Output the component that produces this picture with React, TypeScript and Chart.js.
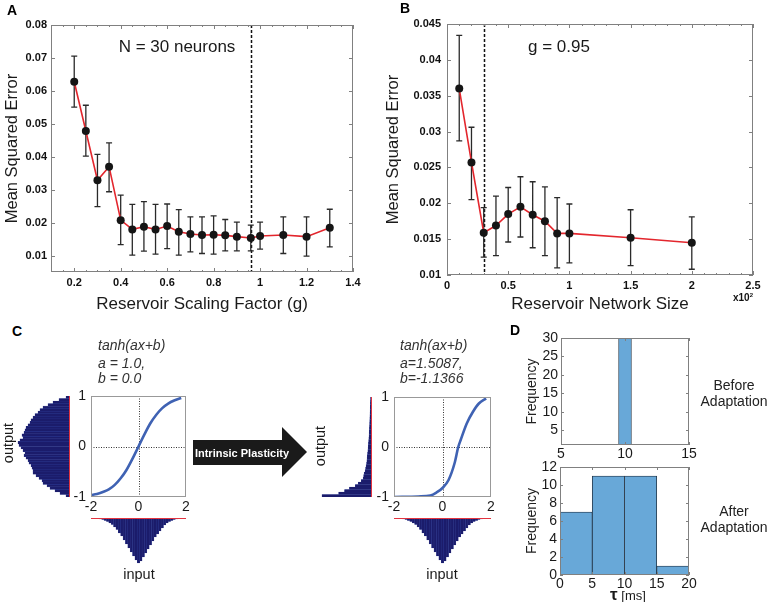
import React, { useEffect, useRef } from 'react';
import { Chart, registerables } from 'chart.js';

Chart.register(...registerables);

const FONT = '"Liberation Sans", Arial, Helvetica, sans-serif';
Chart.defaults.font.family = FONT;

// ---------------- Panel A : MSE vs reservoir scaling factor (N = 30) ----------------
const A_G = [0.2, 0.25, 0.3, 0.35, 0.4, 0.45, 0.5, 0.55, 0.6, 0.65, 0.7, 0.75, 0.8, 0.85, 0.9, 0.96, 1.0, 1.1, 1.2, 1.3];
const A_MSE = [0.0628, 0.0479, 0.033, 0.0371, 0.0209, 0.0181, 0.0189, 0.0181, 0.0191, 0.0174, 0.0167, 0.0164, 0.0165, 0.0163, 0.0159, 0.0155, 0.0161, 0.0164, 0.0159, 0.0186];
const A_ERR_HI = [0.0706, 0.0557, 0.0408, 0.0443, 0.0285, 0.0257, 0.0265, 0.0257, 0.0258, 0.0241, 0.0219, 0.0219, 0.0222, 0.0211, 0.0203, 0.0194, 0.0203, 0.0219, 0.0219, 0.0242];
const A_ERR_LO = [0.0551, 0.0403, 0.025, 0.0295, 0.0135, 0.0103, 0.0115, 0.0106, 0.0123, 0.0103, 0.0113, 0.0108, 0.0106, 0.0116, 0.0116, 0.0116, 0.0121, 0.0108, 0.01, 0.0128];
const A_X_TICKS = [0.2, 0.4, 0.6, 0.8, 1.0, 1.2, 1.4];
const A_Y_TICKS = [0.01, 0.02, 0.03, 0.04, 0.05, 0.06, 0.07, 0.08];
const A_REF_G = 0.96;

// ---------------- Panel B : MSE vs reservoir network size (g = 0.95) ----------------
const B_SIZE = [0.1, 0.2, 0.3, 0.4, 0.5, 0.6, 0.7, 0.8, 0.9, 1.0, 1.5, 2.0];
const B_MSE = [0.036, 0.0257, 0.0159, 0.0169, 0.0185, 0.0195, 0.0184, 0.0175, 0.0158, 0.0158, 0.0152, 0.0145];
const B_ERR_HI = [0.0434, 0.0306, 0.0194, 0.021, 0.0222, 0.0237, 0.023, 0.0223, 0.0208, 0.0199, 0.0191, 0.0181];
const B_ERR_LO = [0.0287, 0.0205, 0.0125, 0.0127, 0.0146, 0.0153, 0.0138, 0.0127, 0.011, 0.0117, 0.0113, 0.0108];
const B_X_TICKS = [0, 0.5, 1, 1.5, 2, 2.5];
const B_Y_TICKS = [0.01, 0.015, 0.02, 0.025, 0.03, 0.035, 0.04, 0.045];
const B_REF_SIZE = 0.3;

// ---------------- Panel C : transfer functions and histograms ----------------
const C_TICKS_X = [-2, 0, 2];
const C_TICKS_Y = [-1, 0, 1];
const C_BEFORE_IN = [-2, -1.75, -1.5, -1.25, -1, -0.75, -0.5, -0.25, 0, 0.25, 0.5, 0.75, 1, 1.25, 1.5, 1.8];
const C_BEFORE_OUT = [-0.96, -0.94, -0.9, -0.85, -0.76, -0.63, -0.46, -0.24, 0, 0.24, 0.46, 0.63, 0.76, 0.85, 0.91, 0.96];
const C_AFTER_IN = [-2, -1, -0.5, -0.25, 0, 0.25, 0.5, 0.65, 0.75, 1.0, 1.25, 1.5, 1.8];
const C_AFTER_OUT = [-1.0, -0.99, -0.97, -0.91, -0.82, -0.66, -0.32, 0.0, 0.14, 0.47, 0.7, 0.87, 0.97];

// input histogram (same input distribution for both), bins of 0.1 starting at -1.75
const IN_BIN_START = -1.75;
const IN_BIN_WIDTH = 0.1;
const INPUT_COUNTS = [0.5, 1, 1.5, 2.5, 3.5, 5, 6.5, 9, 11.5, 15, 18, 22, 26, 30, 34, 38, 42, 45, 43, 39, 35, 31, 27, 23, 19, 16, 13, 10, 7, 5, 3.5, 2.5, 1.5, 1, 0.5];

// output histograms, bins of 0.05 from -1 (bottom) to 1 (top)
const OUT_BIN_START = -1;
const OUT_BIN_WIDTH = 0.05;
const OUTPUT_BEFORE = [3, 9, 14, 19, 22, 26, 27, 30, 33, 36, 36, 37, 38, 40, 41, 43, 45, 44, 46, 48, 50, 51, 49, 46, 47, 45, 44, 43, 41, 39, 38, 36, 34, 31, 29, 26, 21, 16, 10, 3];
const OUTPUT_AFTER = [50, 33, 27, 22, 16, 13, 10, 8, 7.5, 7, 6, 5.5, 5, 4.5, 4.2, 4, 3.8, 3.5, 3.2, 3, 2.8, 2.6, 2.4, 2.2, 2, 1.9, 1.8, 1.6, 1.5, 1.4, 1.3, 1.2, 1.1, 1, 0.9, 0.8, 0.7, 0.6, 0.5, 0.4];

// ---------------- Panel D : tau histograms ----------------
const D_BEFORE_CENTERS = [5, 6, 7, 8, 9, 10, 11, 12, 13, 14, 15];
const D_BEFORE_COUNTS = [0, 0, 0, 0, 0, 30, 0, 0, 0, 0, 0];
const D_BEFORE_X_TICKS = [5, 10, 15];
const D_BEFORE_Y_TICKS = [5, 10, 15, 20, 25, 30];
const D_AFTER_CENTERS = [2.5, 7.5, 12.5, 17.5];
const D_AFTER_COUNTS = [7, 11, 11, 1];
const D_AFTER_X_TICKS = [0, 5, 10, 15, 20];
const D_AFTER_Y_TICKS = [0, 2, 4, 6, 8, 10, 12];

// ---------------- styling ----------------
const RED = '#e3262d';
const BOX = '#808080';
const NAVY = '#1b1c6b';
const NAVY_EDGE = '#2c3a92';
const CURVE = '#3f62b3';
const HIST_RED = '#e2333f';
const D_FILL = '#68a8d8';

const fmt = (v: any) => String(Number(Number(v).toFixed(3)));
const fixedTicks = (vals: number[]) => (scale: any) => {
  scale.ticks = vals.map((v) => ({ value: v }));
};
const NO_GRID = { display: false, drawTicks: false };

type Line = { axis: 'x' | 'y'; value: number; color: string; width: number; dash?: number[]; front?: boolean };
type FrameCfg = {
  box?: { color: string; tick?: number; minorX?: number; minorLen?: number };
  lines?: Line[];
  errors?: { x: number[]; lo: number[]; hi: number[]; color: string; width: number; cap: number };
};

function framePlugin(cfg: FrameCfg) {
  const drawLines = (chart: any, front: boolean) => {
    const { ctx, chartArea: ca, scales } = chart;
    (cfg.lines || []).filter((l) => !!l.front === front).forEach((l) => {
      ctx.save();
      ctx.beginPath();
      ctx.strokeStyle = l.color;
      ctx.lineWidth = l.width;
      ctx.setLineDash(l.dash || []);
      if (l.axis === 'x') {
        const p = Math.round(scales.x.getPixelForValue(l.value)) + 0.5;
        ctx.moveTo(p, ca.top);
        ctx.lineTo(p, ca.bottom);
      } else {
        const p = Math.round(scales.y.getPixelForValue(l.value)) + 0.5;
        ctx.moveTo(ca.left, p);
        ctx.lineTo(ca.right, p);
      }
      ctx.stroke();
      ctx.restore();
    });
  };
  return {
    id: 'frame',
    beforeDatasetsDraw(chart: any) {
      const { ctx, scales } = chart;
      drawLines(chart, false);
      if (cfg.errors) {
        const e = cfg.errors;
        ctx.save();
        ctx.strokeStyle = e.color;
        ctx.lineWidth = e.width;
        ctx.beginPath();
        e.x.forEach((xv, i) => {
          const px = scales.x.getPixelForValue(xv);
          const y1 = scales.y.getPixelForValue(e.hi[i]);
          const y2 = scales.y.getPixelForValue(e.lo[i]);
          ctx.moveTo(px, y1);
          ctx.lineTo(px, y2);
          ctx.moveTo(px - e.cap, y1);
          ctx.lineTo(px + e.cap, y1);
          ctx.moveTo(px - e.cap, y2);
          ctx.lineTo(px + e.cap, y2);
        });
        ctx.stroke();
        ctx.restore();
      }
    },
    afterDatasetsDraw(chart: any) {
      drawLines(chart, true);
      if (!cfg.box) return;
      const { ctx, chartArea: ca, scales } = chart;
      const b = cfg.box;
      const xs = scales.x;
      const ys = scales.y;
      ctx.save();
      ctx.strokeStyle = b.color;
      ctx.lineWidth = 1;
      ctx.strokeRect(ca.left + 0.5, ca.top + 0.5, ca.right - ca.left - 1, ca.bottom - ca.top - 1);
      ctx.beginPath();
      const L = b.tick || 0;
      if (L) {
        xs.ticks.forEach((t: any) => {
          const p = Math.round(xs.getPixelForValue(t.value)) + 0.5;
          ctx.moveTo(p, ca.bottom);
          ctx.lineTo(p, ca.bottom - L);
          ctx.moveTo(p, ca.top);
          ctx.lineTo(p, ca.top + L);
        });
        ys.ticks.forEach((t: any) => {
          const p = Math.round(ys.getPixelForValue(t.value)) + 0.5;
          ctx.moveTo(ca.left, p);
          ctx.lineTo(ca.left + L, p);
          ctx.moveTo(ca.right, p);
          ctx.lineTo(ca.right - L, p);
        });
      }
      if (b.minorX) {
        const ml = b.minorLen || 2;
        const n = Math.round((xs.max - xs.min) / b.minorX);
        for (let k = 0; k <= n; k++) {
          const p = Math.round(xs.getPixelForValue(xs.min + k * b.minorX)) + 0.5;
          ctx.moveTo(p, ca.bottom);
          ctx.lineTo(p, ca.bottom - ml);
          ctx.moveTo(p, ca.top);
          ctx.lineTo(p, ca.top + ml);
        }
      }
      ctx.stroke();
      ctx.restore();
    },
  };
}

const baseOptions = (padding: any) => ({
  responsive: false,
  maintainAspectRatio: false,
  animation: false,
  events: [],
  layout: { padding },
  plugins: { legend: { display: false }, tooltip: { enabled: false }, title: { display: false } },
});

// ---------- A / B builder ----------
function makeErrorChart(p: any) {
  return () => ({
    type: 'line',
    data: {
      datasets: [
        {
          data: p.x.map((xv: number, i: number) => ({ x: xv, y: p.y[i] })),
          borderColor: RED,
          borderWidth: 1.6,
          pointRadius: 4,
          pointBackgroundColor: '#151515',
          pointBorderColor: '#151515',
          pointBorderWidth: 0,
          tension: 0,
          clip: false,
        },
      ],
    },
    options: {
      ...baseOptions({ left: 0, right: p.padRight, top: p.padTop, bottom: 0 }),
      scales: {
        x: {
          type: 'linear',
          min: p.xMin,
          max: p.xMax,
          afterBuildTicks: fixedTicks(p.xTicks),
          afterFit: (s: any) => {
            s.height = p.xH;
          },
          grid: NO_GRID,
          border: { display: false },
          ticks: { font: { size: 11, weight: 'bold' }, color: '#111', padding: 4, maxRotation: 0, autoSkip: false, callback: fmt },
          title: { display: true, text: p.xTitle, font: { size: 17 }, color: '#1a1a1a', padding: { top: 0, bottom: 3 } },
        },
        y: {
          type: 'linear',
          min: p.yMin,
          max: p.yMax,
          afterBuildTicks: fixedTicks(p.yTicks),
          afterFit: (s: any) => {
            s.width = p.yW;
          },
          grid: NO_GRID,
          border: { display: false },
          ticks: { font: { size: 11, weight: 'bold' }, color: '#111', padding: p.yPad, autoSkip: false, callback: fmt },
          title: { display: true, text: 'Mean Squared Error', font: { size: 16.5 }, color: '#1a1a1a', padding: { top: p.yTitlePad, bottom: 0 } },
        },
      },
    },
    plugins: [
      framePlugin({
        box: { color: BOX, tick: 4, minorX: p.minorX, minorLen: 2 },
        lines: [{ axis: 'x', value: p.ref, color: '#111', width: 1.5, dash: [3, 2] }],
        errors: { x: p.x, lo: p.lo, hi: p.hi, color: '#2a2a2a', width: 1.3, cap: 3 },
      }),
    ],
  });
}

const makeA = makeErrorChart({
  x: A_G, y: A_MSE, lo: A_ERR_LO, hi: A_ERR_HI,
  xMin: 0.1, xMax: 1.4, yMin: 0.0052, yMax: 0.08,
  xTicks: A_X_TICKS, yTicks: A_Y_TICKS,
  xTitle: 'Reservoir Scaling Factor (g)',
  padRight: 27, padTop: 25, yW: 51, xH: 46, yPad: 4, yTitlePad: 3,
  ref: A_REF_G, minorX: 0.05,
});

const makeB = makeErrorChart({
  x: B_SIZE, y: B_MSE, lo: B_ERR_LO, hi: B_ERR_HI,
  xMin: 0, xMax: 2.5, yMin: 0.01, yMax: 0.045,
  xTicks: B_X_TICKS, yTicks: B_Y_TICKS,
  xTitle: 'Reservoir Network Size',
  padRight: 14, padTop: 24, yW: 67, xH: 43, yPad: 6, yTitlePad: 4,
  ref: B_REF_SIZE, minorX: 0.1,
});

// ---------- C builders ----------
function makeTransfer(xs: number[], ys: number[], padRight: number, padTop: number, xH: number) {
  return () => ({
    type: 'line',
    data: {
      datasets: [
        {
          data: xs.map((xv, i) => ({ x: xv, y: ys[i] })),
          borderColor: CURVE,
          borderWidth: 2.6,
          pointRadius: 0,
          cubicInterpolationMode: 'monotone',
        },
      ],
    },
    options: {
      ...baseOptions({ left: 0, right: padRight, top: padTop, bottom: 0 }),
      scales: {
        x: {
          type: 'linear', min: -2, max: 2, offset: false,
          afterBuildTicks: fixedTicks(C_TICKS_X),
          afterFit: (s: any) => { s.height = xH; },
          grid: NO_GRID, border: { display: false },
          ticks: { font: { size: 14 }, color: '#1a1a1a', padding: 2, maxRotation: 0, autoSkip: false },
        },
        y: {
          type: 'linear', min: -1, max: 1,
          afterBuildTicks: fixedTicks(C_TICKS_Y),
          afterFit: (s: any) => { s.width = 31; },
          grid: NO_GRID, border: { display: false },
          ticks: { font: { size: 14 }, color: '#1a1a1a', padding: 5, autoSkip: false },
        },
      },
    },
    plugins: [
      framePlugin({
        box: { color: '#999', tick: 0 },
        lines: [
          { axis: 'x', value: 0, color: '#333', width: 1, dash: [1, 1.5] },
          { axis: 'y', value: 0, color: '#333', width: 1, dash: [1, 1.5] },
        ],
      }),
    ],
  });
}

function makeOutputHist(counts: number[], max: number, padding: any) {
  return () => ({
    type: 'bar',
    data: {
      datasets: [
        {
          data: counts.map((c, i) => ({ x: c, y: OUT_BIN_START + (i + 0.5) * OUT_BIN_WIDTH })),
          backgroundColor: NAVY,
          borderColor: NAVY_EDGE,
          borderWidth: 0.4,
          barPercentage: 1,
          categoryPercentage: 1,
        },
      ],
    },
    options: {
      ...baseOptions(padding),
      indexAxis: 'y',
      scales: {
        x: { type: 'linear', min: 0, max, reverse: true, display: false },
        y: { type: 'linear', min: -1, max: 1, offset: false, display: false },
      },
    },
    plugins: [framePlugin({ lines: [{ axis: 'x', value: 0, color: HIST_RED, width: 1, front: true }] })],
  });
}

function makeInputHist(padding: any) {
  return () => ({
    type: 'bar',
    data: {
      datasets: [
        {
          data: INPUT_COUNTS.map((c, i) => ({ x: IN_BIN_START + (i + 0.5) * IN_BIN_WIDTH, y: c })),
          backgroundColor: NAVY,
          borderColor: NAVY_EDGE,
          borderWidth: 0.4,
          barPercentage: 1,
          categoryPercentage: 1,
        },
      ],
    },
    options: {
      ...baseOptions(padding),
      scales: {
        x: { type: 'linear', min: -2, max: 2, offset: false, display: false },
        y: { type: 'linear', min: 0, max: 46, reverse: true, display: false },
      },
    },
    plugins: [framePlugin({ lines: [{ axis: 'y', value: 0, color: HIST_RED, width: 1, front: true }] })],
  });
}

const makeCTransferBefore = makeTransfer(C_BEFORE_IN, C_BEFORE_OUT, 14, 16, 23);
const makeCTransferAfter = makeTransfer(C_AFTER_IN, C_AFTER_OUT, 12, 16, 24);
const makeCOutBefore = makeOutputHist(OUTPUT_BEFORE, 52, { left: 7, right: 6, top: 16, bottom: 18 });
const makeCOutAfter = makeOutputHist(OUTPUT_AFTER, 51, { left: 7, right: 5, top: 16, bottom: 19 });
const makeCInBefore = makeInputHist({ left: 11, right: 14, top: 13, bottom: 11 });
const makeCInAfter = makeInputHist({ left: 11, right: 12, top: 13, bottom: 11 });

// ---------- D builder ----------
function makeTauHist(p: any) {
  return () => ({
    type: 'bar',
    data: {
      datasets: [
        {
          data: p.centers.map((c: number, i: number) => ({ x: c, y: p.counts[i] })),
          backgroundColor: D_FILL,
          borderColor: '#1d2b3a',
          borderWidth: (ctx: any) => (ctx.raw && ctx.raw.y > 0 ? 0.8 : 0),
          barPercentage: 1,
          categoryPercentage: 1,
        },
      ],
    },
    options: {
      ...baseOptions({ left: 0, right: 11, top: p.padTop, bottom: 0 }),
      scales: {
        x: {
          type: 'linear', min: p.xMin, max: p.xMax, offset: false,
          afterBuildTicks: fixedTicks(p.xTicks),
          afterFit: (s: any) => { s.height = p.xH; },
          grid: { ...NO_GRID, offset: false }, border: { display: false },
          ticks: { font: { size: 14 }, color: '#1a1a1a', padding: 1, maxRotation: 0, autoSkip: false },
        },
        y: {
          type: 'linear', min: p.yMin, max: p.yMax,
          afterBuildTicks: fixedTicks(p.yTicks),
          afterFit: (s: any) => { s.width = p.yW; },
          grid: NO_GRID, border: { display: false },
          ticks: { font: { size: 14 }, color: '#1a1a1a', padding: 3, autoSkip: false },
          title: { display: true, text: 'Frequency', font: { size: 14 }, color: '#222', padding: { top: 4, bottom: 0 } },
        },
      },
    },
    plugins: [framePlugin({ box: { color: BOX, tick: 3 } })],
  });
}

const makeDBefore = makeTauHist({
  centers: D_BEFORE_CENTERS, counts: D_BEFORE_COUNTS,
  xMin: 5, xMax: 15, yMin: 1, yMax: 30,
  xTicks: D_BEFORE_X_TICKS, yTicks: D_BEFORE_Y_TICKS,
  padTop: 13, xH: 20, yW: 41,
});
const makeDAfter = makeTauHist({
  centers: D_AFTER_CENTERS, counts: D_AFTER_COUNTS,
  xMin: 0, xMax: 20, yMin: 0, yMax: 12,
  xTicks: D_AFTER_X_TICKS, yTicks: D_AFTER_Y_TICKS,
  padTop: 12, xH: 20, yW: 40,
});

// ---------- React ----------
function ChartBox({ left, top, width, height, make }: any) {
  const ref = useRef<HTMLCanvasElement>(null);
  useEffect(() => {
    const chart = new Chart(ref.current as any, make());
    return () => chart.destroy();
  }, [make]);
  return <canvas ref={ref} width={width} height={height} style={{ position: 'absolute', left, top, width, height }} />;
}

function Txt({ x, y, children, size = 14, bold = false, italic = false, color = '#222', anchor = 'center', rotate = 0 }: any) {
  const tx = anchor === 'center' ? '-50%' : anchor === 'right' ? '-100%' : '0';
  return (
    <div
      style={{
        position: 'absolute',
        left: x,
        top: y,
        transform: `translate(${tx}, -50%)` + (rotate ? ` rotate(${rotate}deg)` : ''),
        fontSize: size,
        fontWeight: bold ? 700 : 400,
        fontStyle: italic ? 'italic' : 'normal',
        color,
        whiteSpace: 'nowrap',
        lineHeight: 1,
      }}
    >
      {children}
    </div>
  );
}

export default function App() {
  return (
    <div
      style={{
        position: 'fixed',
        left: 0,
        top: 0,
        width: 767,
        height: 602,
        background: '#fff',
        overflow: 'hidden',
        fontFamily: FONT,
      }}
    >
      {/* Panel A */}
      <ChartBox left={0} top={0} width={380} height={318} make={makeA} />
      <Txt x={177} y={46} size={17} color="#1a1a1a">N = 30 neurons</Txt>
      <Txt x={7} y={10} size={14} bold anchor="left" color="#000">A</Txt>

      {/* Panel B */}
      <ChartBox left={380} top={0} width={387} height={318} make={makeB} />
      <Txt x={559} y={46} size={17} color="#1a1a1a">g = 0.95</Txt>
      <Txt x={400} y={8} size={14} bold anchor="left" color="#000">B</Txt>
      <div style={{ position: 'absolute', left: 733, top: 292, fontSize: 10, fontWeight: 700, lineHeight: 1, color: '#111', whiteSpace: 'nowrap' }}>
        x10<sup style={{ fontSize: 6 }}>2</sup>
      </div>

      {/* Panel C */}
      <Txt x={12} y={331} size={14} bold anchor="left" color="#000">C</Txt>
      <ChartBox left={10} top={380} width={65} height={135} make={makeCOutBefore} />
      <ChartBox left={60} top={380} width={140} height={140} make={makeCTransferBefore} />
      <ChartBox left={80} top={505} width={120} height={70} make={makeCInBefore} />
      <Txt x={98} y={345} size={14} italic anchor="left" color="#333">tanh(ax+b)</Txt>
      <Txt x={98} y={363} size={14} italic anchor="left" color="#333">a = 1.0,</Txt>
      <Txt x={98} y={378} size={14} italic anchor="left" color="#333">b = 0.0</Txt>
      <Txt x={139} y={574} size={14.5} color="#1a1a1a">input</Txt>
      <Txt x={8} y={443} size={14.5} color="#1a1a1a" rotate={-90}>output</Txt>

      <svg style={{ position: 'absolute', left: 0, top: 0 }} width={767} height={602}>
        <polygon points="193,440 282,440 282,427 307,452 282,477 282,465 193,465" fill="#1a1a1a" />
      </svg>
      <Txt x={242} y={453} size={11} bold color="#fff">Intrinsic Plasticity</Txt>

      <ChartBox left={314} top={381} width={62} height={135} make={makeCOutAfter} />
      <ChartBox left={363} top={381} width={140} height={140} make={makeCTransferAfter} />
      <ChartBox left={383} top={505} width={120} height={70} make={makeCInAfter} />
      <Txt x={400} y={345} size={14} italic anchor="left" color="#333">tanh(ax+b)</Txt>
      <Txt x={400} y={363} size={14} italic anchor="left" color="#333">a=1.5087,</Txt>
      <Txt x={400} y={378} size={14} italic anchor="left" color="#333">b=-1.1366</Txt>
      <Txt x={442} y={574} size={14.5} color="#1a1a1a">input</Txt>
      <Txt x={320} y={446} size={14.5} color="#1a1a1a" rotate={-90}>output</Txt>

      {/* Panel D */}
      <Txt x={510} y={330} size={14} bold anchor="left" color="#000">D</Txt>
      <ChartBox left={520} top={325} width={180} height={140} make={makeDBefore} />
      <ChartBox left={520} top={455} width={180} height={140} make={makeDAfter} />
      <Txt x={734} y={385} size={14} color="#222">Before</Txt>
      <Txt x={734} y={401} size={14} color="#222">Adaptation</Txt>
      <Txt x={734} y={511} size={14} color="#222">After</Txt>
      <Txt x={734} y={527} size={14} color="#222">Adaptation</Txt>
      <div style={{ position: 'absolute', left: 628, top: 594, transform: 'translate(-50%, -50%)', whiteSpace: 'nowrap', lineHeight: 1, color: '#1a1a1a' }}>
        <span style={{ fontSize: 17, fontWeight: 700 }}>τ</span>
        <span style={{ fontSize: 13 }}> [ms]</span>
      </div>
    </div>
  );
}
